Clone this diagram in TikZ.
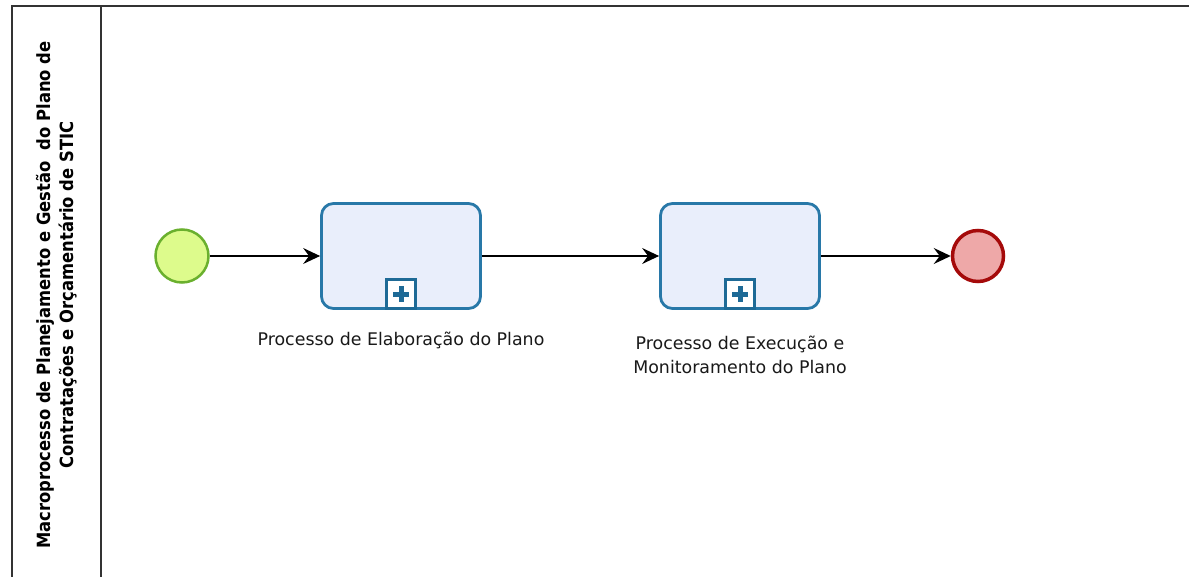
\documentclass[tikz,border=0pt]{standalone}
\usepackage{fontspec}
\setmainfont{DejaVu Sans}
\newfontfamily\condfont{DejaVu Sans Condensed}
\usetikzlibrary{arrows.meta}
\definecolor{startfill}{HTML}{DDFB8C}
\definecolor{startdraw}{HTML}{6AB02E}
\definecolor{taskfill}{HTML}{E9EEFB}
\definecolor{taskdraw}{HTML}{2878A8}
\definecolor{markdraw}{HTML}{1E6A96}
\definecolor{endfill}{HTML}{EEA8A8}
\definecolor{enddraw}{HTML}{A50A0A}
\definecolor{poolline}{HTML}{333333}
\tikzset{
  startev/.style={circle, draw=startdraw, fill=startfill, line width=2.5pt, minimum size=53pt, inner sep=0pt},
  endev/.style={circle, draw=enddraw, fill=endfill, line width=3.5pt, minimum size=51pt, inner sep=0pt},
  taskbox/.style={rectangle, rounded corners=12pt, draw=taskdraw, fill=taskfill, line width=2.8pt, minimum width=159pt, minimum height=105pt, inner sep=0pt},
  marker/.style={rectangle, draw=markdraw, fill=white, line width=2.5pt, minimum size=29pt, inner sep=0pt},
  flow/.style={line width=1.4pt, -{Stealth[length=17pt,width=16pt,inset=6pt]}},
  lbl/.style={font=\fontsize{17.4}{24}\selectfont, align=center, text=black!90},
  pool/.style={draw=poolline, line width=2pt}
}
\begin{document}
\begin{tikzpicture}[x=1pt,y=-1pt]
\useasboundingbox (0,0) rectangle (1189,577);
\fill[white] (0,0) rectangle (1189,577);
% pool border
\draw[pool] (1189,6) -- (12,6) -- (12,577);
\draw[pool] (101,6) -- (101,577);
% lane label
\node[rotate=90, align=center, font=\condfont\bfseries\fontsize{18.2}{23}\selectfont] (lane) at (57,295)
  {Macroprocesso de Planejamento e Gestão\ \ do Plano de\\Contratações e Orçamentário de STIC};
% events and tasks
\node[startev] (start) at (182,256) {};
\node[taskbox] (t1) at (401,256) {};
\node[taskbox] (t2) at (740,256) {};
\node[endev] (end) at (978,256) {};
% collapsed subprocess markers
\node[marker, anchor=south] (m1) at (t1.south) {};
\node[marker, anchor=south] (m2) at (t2.south) {};
\foreach \m in {m1,m2}{
  \fill[markdraw] ([xshift=-2.5pt,yshift=-8pt]\m.center) rectangle ([xshift=2.5pt,yshift=8pt]\m.center);
  \fill[markdraw] ([xshift=-8pt,yshift=-2.5pt]\m.center) rectangle ([xshift=8pt,yshift=2.5pt]\m.center);
}
% labels
\node[lbl] (l1) at (401,340) {Processo de Elaboração do Plano};
\node[lbl] (l2) at (740,355) {Processo de Execução e\\Monitoramento do Plano};
% flows
\draw[flow] (start) -- (t1);
\draw[flow] (t1) -- (t2);
\draw[flow] (t2) -- (end);
\end{tikzpicture}
\end{document}
